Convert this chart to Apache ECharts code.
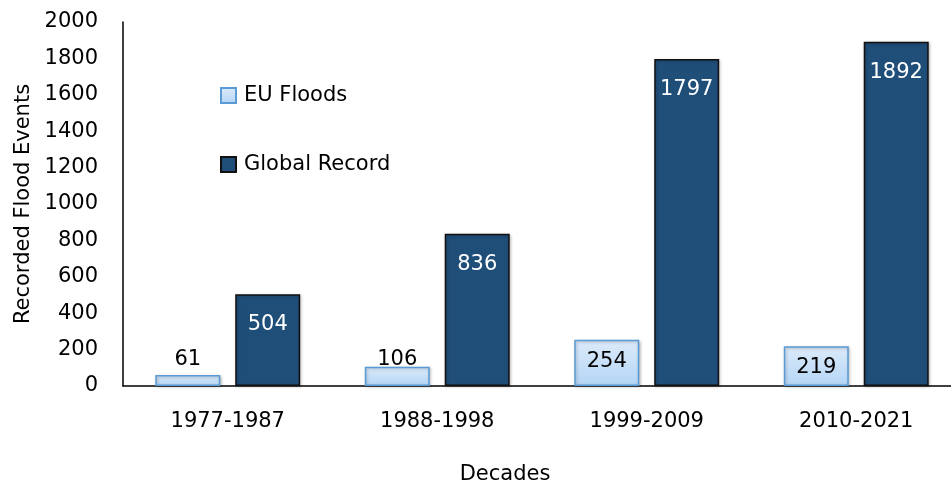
<!DOCTYPE html>
<html>
<head>
<meta charset="utf-8">
<script src="https://cdn.jsdelivr.net/npm/echarts@6/dist/echarts.min.js"></script>
<style>
html, body { margin: 0; padding: 0; background: #fff; }
#chart { width: 951px; height: 486px; }
</style>
</head>
<body>
<div id="chart"></div>
<script>
var decades = ['1977-1987', '1988-1998', '1999-2009', '2010-2021'];
var euFloods = [61, 106, 254, 219];
var globalRecord = [504, 836, 1797, 1892];
var yTicks = [0, 200, 400, 600, 800, 1000, 1200, 1400, 1600, 1800, 2000];

var font = 'DejaVu Sans';
var chart = echarts.init(document.getElementById('chart'));

// short EU bars get their label pushed above the bar like in Excel
var euData = euFloods.map(function(v) {
  var item = { value: v };
  if (v < 150) {
    item.label = { position: 'top', distance: v < 80 ? 5 : -3 };
  }
  return item;
});

var option = {
  animation: false,
  textStyle: { fontFamily: font },
  grid: { left: 123, right: -10, top: 22, bottom: 100, outerBoundsMode: 'none' },
  legend: {
    orient: 'vertical',
    left: 220,
    top: 85,
    padding: 0,
    itemGap: 48,
    itemWidth: 15,
    itemHeight: 15,
    textStyle: { fontSize: 21, color: '#000', fontFamily: font, padding: [0, 0, 0, 3] },
    data: [
      { name: 'EU Floods', icon: 'rect' },
      { name: 'Global Record', icon: 'rect' }
    ]
  },
  xAxis: {
    type: 'category',
    data: decades,
    name: 'Decades',
    nameLocation: 'middle',
    nameGap: 78,
    // title sits left of the axis centre in the original
    nameTextStyle: { fontSize: 21, color: '#000', fontFamily: font, padding: [0, 74, 0, 0] },
    axisLine: { lineStyle: { color: '#000', width: 1.5 } },
    axisTick: { show: false },
    axisLabel: { fontSize: 21, color: '#000', margin: 25, fontFamily: font }
  },
  yAxis: {
    type: 'value',
    min: yTicks[0],
    max: yTicks[yTicks.length - 1],
    interval: 200,
    name: 'Recorded Flood Events',
    nameLocation: 'middle',
    nameGap: 89,
    nameTextStyle: { fontSize: 21, color: '#000', fontFamily: font },
    axisLine: { show: true, lineStyle: { color: '#000', width: 1.5 } },
    axisTick: { show: false },
    splitLine: { show: false },
    axisLabel: {
      fontSize: 21,
      color: '#000',
      margin: 25,
      fontFamily: font,
      formatter: function(v) { return String(v); }
    }
  },
  series: [
    {
      name: 'EU Floods',
      type: 'bar',
      barWidth: 65,
      barGap: '23%',
      data: euData,
      itemStyle: {
        color: new echarts.graphic.LinearGradient(0, 0, 0, 1, [
          { offset: 0, color: '#DDEBFA' },
          { offset: 1, color: '#B3D5F6' }
        ]),
        borderColor: '#5B9BD5',
        borderWidth: 1.5,
        shadowColor: 'rgba(0,0,0,0.25)',
        shadowBlur: 3,
        shadowOffsetX: 1,
        shadowOffsetY: 1
      },
      label: {
        show: true,
        position: 'insideTop',
        distance: 11,
        fontSize: 21,
        color: '#000',
        fontFamily: font
      }
    },
    {
      name: 'Global Record',
      type: 'bar',
      barWidth: 65,
      data: globalRecord,
      itemStyle: {
        color: '#1F4E79',
        borderColor: '#111',
        borderWidth: 1.5,
        shadowColor: 'rgba(0,0,0,0.25)',
        shadowBlur: 3,
        shadowOffsetX: 1,
        shadowOffsetY: 1
      },
      label: {
        show: true,
        position: 'insideTop',
        distance: 20,
        fontSize: 21,
        color: '#fff',
        fontFamily: font
      }
    }
  ]
};
chart.setOption(option);
</script>
</body>
</html>
